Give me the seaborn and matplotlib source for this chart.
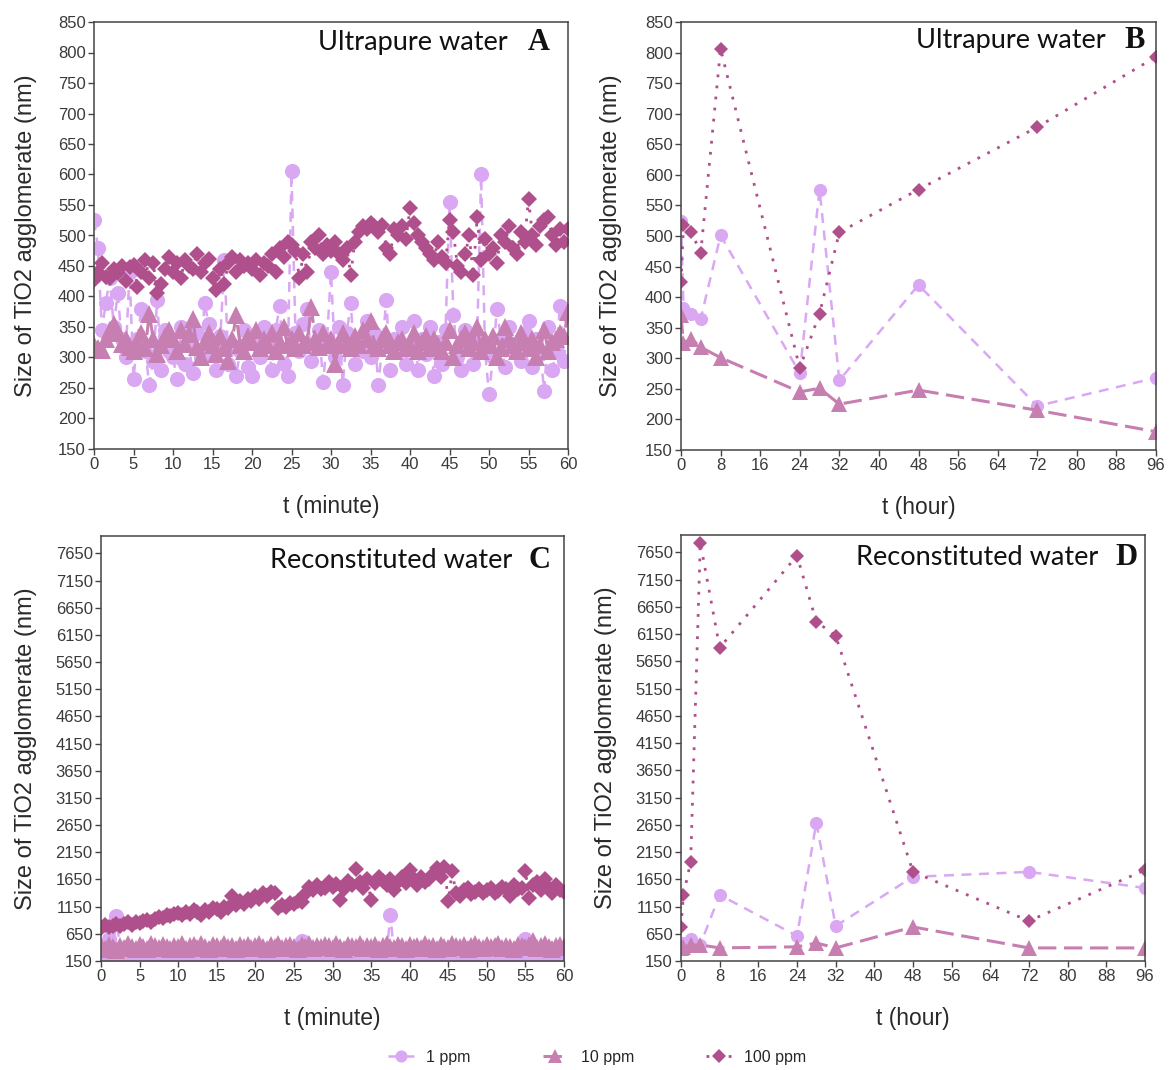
import numpy as np
import matplotlib
matplotlib.use("Agg")
import matplotlib.pyplot as plt
import seaborn as sns

sns.set_style("ticks")
plt.rcParams['font.family'] = ['Liberation Sans', 'DejaVu Sans']

# time grids
t_min = np.arange(0, 60.5, 0.5)
t_hour = [0, 0.5, 2, 4, 8, 24, 28, 32, 48, 72, 96]

# Panel A - ultrapure water, minutes
a_1ppm = [525, 480, 345, 390, 430, 350, 405, 330, 300, 440,
          265, 330, 380, 310, 255, 295, 395, 280, 345, 310,
          300, 265, 350, 290, 320, 275, 340, 300, 390, 355,
          305, 280, 335, 460, 290, 320, 270, 310, 345, 285,
          270, 330, 300, 350, 320, 280, 345, 385, 290, 270,
          605, 340, 310, 355, 380, 295, 320, 345, 260, 330,
          440, 300, 350, 255, 340, 390, 290, 330, 310, 360,
          300, 340, 255, 320, 395, 280, 330, 310, 350, 290,
          315, 360, 280, 330, 305, 350, 270, 325, 290, 345,
          555, 370, 300, 280, 345, 320, 290, 330, 600, 310,
          240, 300, 380, 330, 285, 350, 310, 320, 295, 340,
          360, 285, 330, 305, 245, 350, 280, 310, 385, 295,
          370]
a_10ppm = [320, 315, 312, 330, 345, 355, 340, 322, 330, 318,
           310, 325, 340, 315, 372, 330, 305, 320, 335, 345,
           330, 310, 345, 322, 338, 363, 318, 300, 325, 340,
           320, 305, 335, 315, 295, 330, 369, 320, 310, 335,
           325, 345, 315, 330, 320, 340, 310, 325, 350, 320,
           330, 315, 340, 320, 325, 383, 330, 318, 340, 320,
           330, 289, 320, 340, 325, 315, 335, 320, 345, 330,
           360, 320, 315, 330, 340, 320, 310, 325, 330, 315,
           320, 340, 310, 325, 335, 315, 330, 320, 310, 325,
           345, 300, 320, 330, 340, 315, 325, 350, 310, 330,
           320, 335, 300, 315, 350, 330, 320, 310, 340, 325,
           315, 330, 300, 320, 345, 310, 325, 330, 340, 335,
           375]
a_100ppm = [427, 440, 455, 432, 430, 445, 438, 450, 425, 448,
            452, 415, 440, 460, 430, 455, 405, 420, 445, 465,
            440, 455, 430, 460, 450, 445, 470, 440, 455, 462,
            430, 410, 445, 420, 455, 465, 440, 460, 450, 455,
            445, 460, 435, 455, 450, 470, 440, 480, 465, 490,
            485, 475, 430, 470, 440, 490, 480, 500, 470, 485,
            475, 490, 470, 460, 480, 435, 490, 505, 515, 510,
            520, 515, 505, 518, 480, 470, 510, 500, 515, 495,
            545, 520, 500, 490, 480, 470, 460, 490, 465, 455,
            525, 505, 450, 440, 470, 500, 435, 530, 460, 495,
            470, 480, 455, 500, 490, 515, 480, 470, 505, 490,
            560, 500, 485, 515, 525, 530, 500, 485, 510, 490,
            510]

# Panel B - ultrapure water, hours
b_1ppm = [525, 383, 372, 365, 501, 276, 576, 264, 420, 222, 268]
b_10ppm = [370, 325, 332, 318, 301, 245, 251, 225, 248, 215, 180]
b_100ppm = [424, 518, 507, 473, 806, 284, 373, 506, 576, 678, 793]

# Panel C - reconstituted water, minutes
c_1ppm = [300, 250, 550, 260, 975, 280, 240, 300, 260, 230,
          250, 280, 230, 270, 300, 240, 260, 290, 230, 250,
          270, 240, 300, 260, 230, 280, 250, 240, 290, 260,
          230, 270, 250, 300, 240, 260, 280, 230, 250, 270,
          240, 290, 260, 230, 280, 250, 300, 240, 270, 250,
          260, 230, 515, 250, 280, 240, 270, 300, 230, 260,
          250, 280, 240, 270, 230, 290, 260, 250, 240, 280,
          300, 260, 230, 270, 250, 1005, 240, 280, 260, 230,
          270, 250, 290, 240, 260, 230, 280, 250, 300, 240,
          260, 230, 270, 250, 290, 240, 260, 280, 230, 250,
          270, 240, 260, 300, 230, 280, 250, 240, 270, 260,
          550, 250, 230, 280, 260, 240, 290, 250, 270, 230,
          260]
c_10ppm = [420, 380, 450, 400, 360, 430, 390, 470, 410, 380,
           440, 400, 370, 460, 420, 390, 450, 410, 380, 430,
           400, 460, 380, 420, 440, 390, 470, 410, 380, 450,
           420, 390, 460, 400, 430, 380, 450, 410, 440, 390,
           430, 470, 400, 380, 440, 410, 460, 390, 420, 450,
           400, 380, 440, 410, 470, 390, 430, 400, 450, 420,
           390, 460, 410, 380, 440, 420, 400, 470, 390, 430,
           410, 450, 380, 420, 460, 400, 390, 440, 420, 380,
           450, 410, 430, 390, 470, 400, 420, 380, 440, 410,
           390, 460, 420, 400, 440, 380, 430, 470, 410, 390,
           440, 400, 420, 460, 390, 430, 410, 380, 450, 420,
           400, 440, 520, 390, 420, 460, 410, 380, 430, 440,
           400]
c_100ppm = [760, 820, 780, 800, 840, 790, 830, 860, 820, 870,
            850, 880, 900, 870, 920, 960, 940, 1000, 980, 1020,
            1040, 1000, 1060, 1020, 1080, 1050, 1000, 1090, 1060, 1120,
            1100, 1060, 1150, 1120, 1340, 1180, 1250, 1200, 1300, 1260,
            1340, 1300, 1400, 1350, 1420, 1400, 1125, 1180, 1150, 1220,
            1190, 1250, 1230, 1380, 1520, 1450, 1550, 1480, 1500, 1600,
            1520, 1560, 1280, 1480, 1620, 1550, 1840, 1600, 1500, 1650,
            1280, 1580, 1700, 1620, 1550, 1650, 1460, 1600, 1700, 1580,
            1830, 1650, 1550, 1700, 1600, 1650, 1750, 1860, 1700, 1880,
            1250, 1800, 1400, 1350, 1450, 1500, 1380, 1420, 1480, 1400,
            1450, 1500, 1400, 1430, 1520, 1480, 1350, 1550, 1480, 1500,
            1800, 1310, 1550, 1600, 1450, 1650, 1500, 1400, 1550, 1450,
            1420]

# Panel D - reconstituted water, hours
d_1ppm = [420, 480, 560, 450, 1363, 610, 2690, 793, 1695, 1786, 1490]
d_10ppm = [380, 410, 440, 445, 390, 410, 480, 390, 775, 390, 390]
d_100ppm = [775, 1363, 1970, 7830, 5900, 7590, 6380, 6120, 1786, 885, 1820]

labels = ["1 ppm", "10 ppm", "100 ppm"]
colors = ["#DAA8F3", "#C77EB0", "#AF4F8B"]
markers = ["o", "^", "D"]
msizes = [9.5, 11, 7.5]
linestyles = [(0, (4, 3)), (0, (6, 2.5)), (0, (1, 3))]
linewidths = [1.8, 2.2, 2.0]

W, H = 1171, 1070
fig = plt.figure(figsize=(W / 100, H / 100), dpi=100)


def make_ax(left, right, top, bottom):
    return fig.add_axes([left / W, 1 - bottom / H, (right - left) / W, (bottom - top) / H])


panels = [
    dict(box=(94, 568, 22, 449), x=t_min, ys=[a_1ppm, a_10ppm, a_100ppm], scale=1.15,
         xlim=(0, 60), xt=range(0, 61, 5), ylim=(150, 850), yt=range(150, 851, 50),
         title="Ultrapure water", letter="A", tx=0.873, lx=0.962, ty=0.934,
         xlabel="t (minute)", ylx=-0.12),
    dict(box=(681, 1156, 22, 450), x=t_hour, ys=[b_1ppm, b_10ppm, b_100ppm], scale=1.0,
         xlim=(0, 96), xt=range(0, 97, 8), ylim=(150, 850), yt=range(150, 851, 50),
         title="Ultrapure water", letter="B", tx=0.893, lx=0.977, ty=0.939,
         xlabel="t (hour)", ylx=-0.124),
    dict(box=(101, 564, 536, 961), x=t_min, ys=[c_1ppm, c_10ppm, c_100ppm], scale=1.15,
         xlim=(0, 60), xt=range(0, 61, 5), ylim=(150, 7970), yt=range(150, 7651, 500),
         title="Reconstituted water", letter="C", tx=0.888, lx=0.97, ty=0.925,
         xlabel="t (minute)", ylx=-0.138),
    dict(box=(681, 1145, 535, 961), x=t_hour, ys=[d_1ppm, d_10ppm, d_100ppm], scale=1.0,
         xlim=(0, 96), xt=range(0, 97, 8), ylim=(150, 7970), yt=range(150, 7651, 500),
         title="Reconstituted water", letter="D", tx=0.899, lx=0.985, ty=0.93,
         xlabel="t (hour)", ylx=-0.138),
]

for p in panels:
    ax = make_ax(*p["box"])
    for i, y in enumerate(p["ys"]):
        sns.lineplot(x=p["x"], y=y, ax=ax, color=colors[i], label=labels[i],
                     estimator=None, errorbar=None, marker=markers[i],
                     markersize=msizes[i] * p["scale"], linestyle=linestyles[i],
                     linewidth=linewidths[i], markeredgewidth=0,
                     markerfacecolor=colors[i])
    if ax.get_legend() is not None:
        ax.get_legend().remove()
    ax.set_xlim(*p["xlim"])
    ax.set_ylim(*p["ylim"])
    ax.set_xticks(list(p["xt"]))
    ax.set_yticks(list(p["yt"]))
    ax.tick_params(labelsize=12, length=4, width=1, color="#444444",
                   labelcolor="#3a3a3a", pad=2)
    for s in ax.spines.values():
        s.set_color("#444444")
        s.set_linewidth(1.1)
    ax.set_ylabel("Size of TiO2 agglomerate (nm)", fontsize=17, color="#2a2a2a")
    ax.yaxis.set_label_coords(p["ylx"], 0.5)
    ax.set_xlabel(p["xlabel"], fontsize=16.5, color="#2a2a2a")
    ax.xaxis.set_label_coords(0.5, -0.108)
    ax.text(p["tx"], p["ty"], p["title"], transform=ax.transAxes, ha="right",
            va="baseline", fontsize=19.5, family=["Lato", "DejaVu Sans"], color="#111111")
    ax.text(p["lx"], p["ty"], p["letter"], transform=ax.transAxes, ha="right",
            va="baseline", fontsize=22, fontweight="bold",
            family=["Liberation Serif", "DejaVu Serif"], color="#111111")

handles, labs = fig.axes[0].get_legend_handles_labels()
fig.legend(handles, labs, loc="center", bbox_to_anchor=(0.51, 0.012), ncol=3,
           frameon=False, fontsize=11.5, handlelength=1.6, columnspacing=4.5,
           markerscale=0.8)

fig.savefig("out.png", dpi=100)
